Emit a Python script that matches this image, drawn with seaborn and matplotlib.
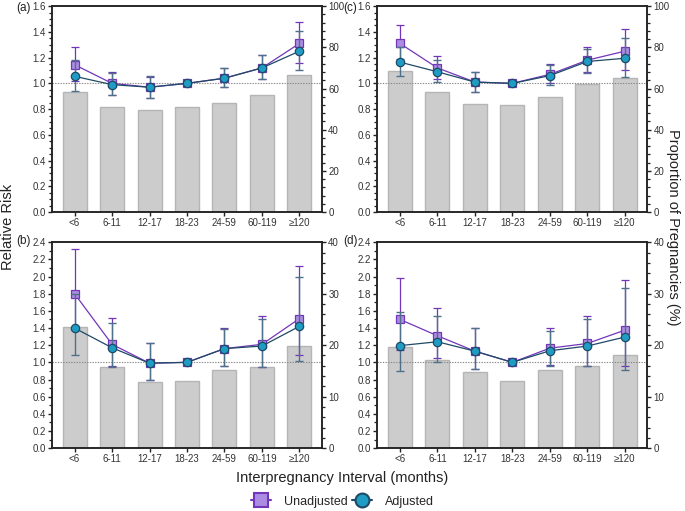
import numpy as np
import pandas as pd
import matplotlib
matplotlib.use("Agg")
import matplotlib.pyplot as plt
import seaborn as sns
from matplotlib.ticker import MultipleLocator
from matplotlib.lines import Line2D

# --- data --------------------------------------------------------------------
intervals = ["<6", "6-11", "12-17", "18-23", "24-59", "60-119", "≥120"]

# proportion of pregnancies (%), right axis
prop_a = [58.2, 50.8, 49.4, 50.8, 53.0, 57.0, 66.5]
prop_b = [23.5, 15.8, 12.9, 13.1, 15.2, 15.8, 19.8]
prop_c = [68.4, 58.1, 52.5, 52.2, 56.0, 62.2, 65.3]
prop_d = [19.7, 17.2, 14.8, 13.1, 15.2, 16.0, 18.0]

# unadjusted relative risk and CI
unadj_a = [1.145, 1.00, 0.97, 1.00, 1.04, 1.12, 1.31]
unadj_a_lo = [1.02, 0.91, 0.89, 1.00, 0.97, 1.03, 1.16]
unadj_a_hi = [1.28, 1.09, 1.05, 1.00, 1.12, 1.22, 1.48]
unadj_b = [1.80, 1.21, 0.99, 1.00, 1.16, 1.21, 1.51]
unadj_b_lo = [1.38, 0.96, 0.80, 1.00, 0.96, 0.95, 1.08]
unadj_b_hi = [2.32, 1.515, 1.23, 1.00, 1.395, 1.535, 2.125]
unadj_c = [1.31, 1.12, 1.01, 1.00, 1.07, 1.18, 1.25]
unadj_c_lo = [1.19, 1.03, 0.93, 1.00, 1.00, 1.09, 1.105]
unadj_c_hi = [1.45, 1.215, 1.09, 1.00, 1.15, 1.285, 1.42]
unadj_d = [1.50, 1.31, 1.13, 1.00, 1.165, 1.22, 1.375]
unadj_d_lo = [1.14, 1.055, 0.92, 1.00, 0.965, 0.96, 0.96]
unadj_d_hi = [1.985, 1.635, 1.40, 1.00, 1.40, 1.545, 1.965]

# adjusted relative risk and CI
adj_a = [1.055, 0.99, 0.97, 1.00, 1.04, 1.12, 1.25]
adj_a_lo = [0.94, 0.91, 0.89, 1.00, 0.97, 1.03, 1.10]
adj_a_hi = [1.18, 1.08, 1.055, 1.00, 1.12, 1.22, 1.41]
adj_b = [1.40, 1.17, 0.99, 1.00, 1.16, 1.19, 1.42]
adj_b_lo = [1.08, 0.94, 0.80, 1.00, 0.96, 0.945, 1.01]
adj_b_hi = [1.80, 1.46, 1.23, 1.00, 1.39, 1.51, 2.00]
adj_c = [1.165, 1.09, 1.01, 1.00, 1.06, 1.17, 1.195]
adj_c_lo = [1.055, 1.01, 0.93, 1.00, 0.99, 1.08, 1.05]
adj_c_hi = [1.285, 1.185, 1.09, 1.00, 1.14, 1.27, 1.355]
adj_d = [1.195, 1.24, 1.13, 1.00, 1.135, 1.19, 1.295]
adj_d_lo = [0.90, 1.005, 0.92, 1.00, 0.955, 0.955, 0.905]
adj_d_hi = [1.59, 1.545, 1.40, 1.00, 1.365, 1.51, 1.865]

# --- style -------------------------------------------------------------------
sns.set_theme(style="ticks")
plt.rcParams["font.family"] = ["Liberation Sans", "DejaVu Sans"]

PURPLE = "#7236B8"
PURPLE_FILL = "#AC8CE3"
NAVY = "#1E4A66"
TEAL_FILL = "#1E9CC4"
CI_ADJ = "#4E7088"
BAR_FILL = "#CCCCCC"
BAR_EDGE = "#B5B5B5"
SPINE = "#222222"


def draw_panel(ax, prop, unadj, u_lo, u_hi, adj, a_lo, a_hi, rr_max, pr_max,
               rr_minor, pr_major, pr_minor):
    axr = ax.twinx()
    df = pd.DataFrame({"interval": intervals, "prop": prop})
    sns.barplot(data=df, x="interval", y="prop", ax=axr, color=BAR_FILL,
                edgecolor=BAR_EDGE, linewidth=1.0, width=0.64, saturation=1)
    axr.set_ylim(0, pr_max)
    axr.set_ylabel("")
    axr.set_xlabel("")
    axr.yaxis.set_major_locator(MultipleLocator(pr_major))
    axr.yaxis.set_minor_locator(MultipleLocator(pr_minor))

    x = np.arange(len(intervals))
    ax.axhline(1.0, color="#888888", ls=(0, (1.2, 1.2)), lw=0.8, zorder=1)
    u = np.array(unadj)
    a = np.array(adj)
    ax.errorbar(x, u, yerr=[u - np.array(u_lo), np.array(u_hi) - u],
                color=PURPLE, lw=0.9, elinewidth=0.9, capsize=3, capthick=0.9,
                marker="s", ms=6, mfc=PURPLE_FILL, mec=PURPLE, mew=0.9, zorder=3)
    ax.errorbar(x, a, yerr=[a - np.array(a_lo), np.array(a_hi) - a],
                fmt="none", ecolor=CI_ADJ, elinewidth=1.0, capsize=3,
                capthick=1.0, zorder=4)
    ax.plot(x, a, color=NAVY, lw=0.9, marker="o", ms=6, mfc=TEAL_FILL,
            mec=NAVY, mew=0.9, zorder=5)

    ax.set_xlim(-0.6, len(intervals) - 0.4)
    ax.set_ylim(0, rr_max)
    ax.yaxis.set_major_locator(MultipleLocator(0.2))
    ax.yaxis.set_minor_locator(MultipleLocator(rr_minor))
    ax.set_xticks(x)
    ax.set_xticklabels(intervals)

    ax.set_zorder(axr.get_zorder() + 1)
    ax.patch.set_visible(False)

    for a_ in (ax, axr):
        for sp in a_.spines.values():
            sp.set_visible(True)
            sp.set_color(SPINE)
            sp.set_linewidth(1.1)
        a_.tick_params(which="major", length=3, width=1.0, color=SPINE,
                       labelsize=7, pad=1.5, labelcolor="#333333")
        a_.tick_params(which="minor", length=2, width=0.9, color=SPINE)
    ax.yaxis.set_major_formatter(matplotlib.ticker.FormatStrFormatter("%.1f"))
    ax.tick_params(axis="x", which="minor", bottom=False)
    axr.tick_params(axis="x", which="both", bottom=False, labelbottom=False)
    return axr


fig = plt.figure(figsize=(6.85, 5.11), dpi=100)
W, H = 0.394, 0.403
ax_a = fig.add_axes([0.076, 0.585, W, H])
ax_c = fig.add_axes([0.551, 0.585, W, H])
ax_b = fig.add_axes([0.076, 0.123, W, H])
ax_d = fig.add_axes([0.551, 0.123, W, H])

draw_panel(ax_a, prop_a, unadj_a, unadj_a_lo, unadj_a_hi,
           adj_a, adj_a_lo, adj_a_hi, 1.6, 100, 0.05, 20, 4)
draw_panel(ax_c, prop_c, unadj_c, unadj_c_lo, unadj_c_hi,
           adj_c, adj_c_lo, adj_c_hi, 1.6, 100, 0.05, 20, 4)
draw_panel(ax_b, prop_b, unadj_b, unadj_b_lo, unadj_b_hi,
           adj_b, adj_b_lo, adj_b_hi, 2.4, 40, 0.1, 10, 2)
draw_panel(ax_d, prop_d, unadj_d, unadj_d_lo, unadj_d_hi,
           adj_d, adj_d_lo, adj_d_hi, 2.4, 40, 0.1, 10, 2)

# panel labels, placed just left of the top tick label
for (px, py, lab) in [(0.045, 0.985, "(a)"), (0.522, 0.985, "(c)"),
                      (0.045, 0.529, "(b)"), (0.522, 0.529, "(d)")]:
    fig.text(px, py, lab, fontsize=8.5, ha="right", va="center",
             color="#222222")

fig.text(0.012, 0.556, "Relative Risk", rotation=90, fontsize=10.5,
         ha="center", va="center", color="#222222")
fig.text(0.982, 0.556, "Proportion of Pregnancies (%)", rotation=270,
         fontsize=10.5, ha="center", va="center", color="#222222")
fig.text(0.5, 0.065, "Interpregnancy Interval (months)", fontsize=10.5,
         ha="center", va="center", color="#222222")

handles = [
    Line2D([], [], color=PURPLE, lw=1.5, marker="s", ms=10,
           mfc=PURPLE_FILL, mec=PURPLE, mew=1.5),
    Line2D([], [], color=NAVY, lw=1.5, marker="o", ms=10,
           mfc=TEAL_FILL, mec=NAVY, mew=1.5),
]
fig.legend(handles, ["Unadjusted", "Adjusted"], loc="center",
           bbox_to_anchor=(0.5, 0.018), ncol=2, frameon=False, fontsize=9,
           handlelength=1.6, columnspacing=0.4, handletextpad=1.0)

fig.savefig("out.png", dpi=100)
